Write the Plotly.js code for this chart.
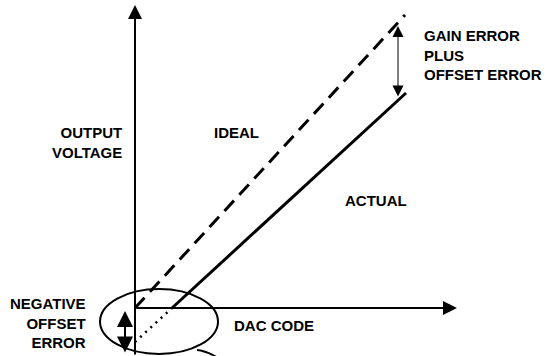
<!DOCTYPE html>
<html>
<head>
<meta charset="utf-8">
<script src="https://cdn.plot.ly/plotly-3.0.1.min.js"></script>
<style>
    html, body { margin: 0; padding: 0; background: #ffffff; }
    #chart { width: 548px; height: 356px; }
</style>
</head>
<body>
<div id="chart"></div>
<script>
// transfer function points (dac code vs output voltage, origin at the axes corner)
let idealCode = [0, 270];
let idealOut = [0, 293];

let actualCode = [37, 271];
let actualOut = [0, 215];

// actual line extended back below zero (negative offset)
let extrapCode = [0, 37];
let extrapOut = [-34, 0];

// error markers
let gainErrorCode = 263;
let gainErrorOut = [282, 210];
let offsetErrorCode = -10;
let offsetErrorOut = [-3, -46];

// labels
let labels = [
    {text: "OUTPUT<br>VOLTAGE", x: -11, y: 166, anchor: "right"},
    {text: "IDEAL", x: 101, y: 176, anchor: "center"},
    {text: "ACTUAL", x: 241, y: 108, anchor: "center"},
    {text: "DAC CODE", x: 139, y: -17, anchor: "center"},
    {text: "GAIN ERROR<br>PLUS<br>OFFSET ERROR", x: 287, y: 253, anchor: "left"},
    {text: "NEGATIVE<br>OFFSET<br>ERROR", x: -47, y: -15, anchor: "right"}
];

let labelFont = {family: "Liberation Sans, Arial, sans-serif", size: 15, color: "#000000", weight: "bold"};

// lines
let ideal = {
    x: idealCode,
    y: idealOut,
    mode: "lines",
    line: {color: "#000000", width: 3, dash: "14px,8px"},
    hoverinfo: "skip"
};

let actual = {
    x: actualCode,
    y: actualOut,
    mode: "lines",
    line: {color: "#000000", width: 3},
    hoverinfo: "skip"
};

let extrap = {
    x: extrapCode,
    y: extrapOut,
    mode: "lines",
    line: {color: "#000000", width: 2.5, dash: "2px,5px"},
    hoverinfo: "skip"
};

// annotations: text labels
let annotations = labels.map(l => ({
    text: l.text,
    x: l.x,
    y: l.y,
    xref: "x",
    yref: "y",
    xanchor: l.anchor,
    yanchor: "middle",
    align: l.anchor == "center" ? "center" : l.anchor,
    showarrow: false,
    font: labelFont
}));

// axis arrows
annotations.push({
    x: 0, y: 303, ax: 0, ay: -48,
    xref: "x", yref: "y", axref: "x", ayref: "y",
    text: "", showarrow: true,
    arrowhead: 2, arrowsize: 1.4, arrowwidth: 2, arrowcolor: "#000000"
});
annotations.push({
    x: 322, y: 0, ax: 0, ay: 0,
    xref: "x", yref: "y", axref: "x", ayref: "y",
    text: "", showarrow: true,
    arrowhead: 2, arrowsize: 1.4, arrowwidth: 2, arrowcolor: "#000000"
});

// gain error double arrow
annotations.push({
    x: gainErrorCode, y: gainErrorOut[0], ax: gainErrorCode, ay: gainErrorOut[1],
    xref: "x", yref: "y", axref: "x", ayref: "y",
    text: "", showarrow: true,
    arrowside: "end+start",
    arrowhead: 2, startarrowhead: 2, arrowsize: 2.2, startarrowsize: 2.2,
    arrowwidth: 1, arrowcolor: "#000000"
});

// offset error double arrow
annotations.push({
    x: offsetErrorCode, y: offsetErrorOut[0], ax: offsetErrorCode, ay: offsetErrorOut[1],
    xref: "x", yref: "y", axref: "x", ayref: "y",
    text: "", showarrow: true,
    arrowside: "end+start",
    arrowhead: 2, startarrowhead: 2, arrowsize: 1.6, startarrowsize: 1.6,
    arrowwidth: 2, arrowcolor: "#000000"
});

// ellipse around the offset region and the callout curve
let shapes = [
    {
        type: "circle",
        xref: "x", yref: "y",
        x0: -35, x1: 83, y0: -46, y1: 19,
        line: {color: "#000000", width: 2}
    },
    {
        type: "path",
        xref: "x", yref: "y",
        path: "M 62 -42 Q 72 -43 83 -50",
        line: {color: "#000000", width: 2}
    }
];

let layout = {
    width: 548,
    height: 356,
    margin: {l: 0, r: 0, t: 0, b: 0},
    showlegend: false,
    paper_bgcolor: "#ffffff",
    plot_bgcolor: "#ffffff",
    xaxis: {range: [-135, 413], visible: false, fixedrange: true},
    yaxis: {range: [-48, 308], visible: false, fixedrange: true},
    annotations: annotations,
    shapes: shapes
};

Plotly.newPlot("chart", [ideal, actual, extrap], layout, {staticPlot: true});
</script>
</body>
</html>
